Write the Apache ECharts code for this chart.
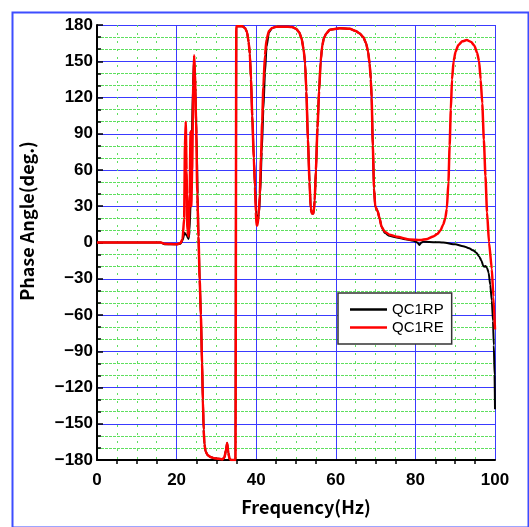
<!DOCTYPE html>
<html>
<head>
<meta charset="utf-8">
<script src="https://cdn.jsdelivr.net/npm/echarts@6/dist/echarts.min.js"></script>
<style>
html,body{margin:0;padding:0;background:#fff;}
#c{width:529px;height:527px;}
</style>
</head>
<body>
<div id="c"></div>
<script>
var seriesNames = ['QC1RP', 'QC1RE'];
var xTitle = 'Frequency(Hz)';
var yTitle = 'Phase Angle(deg.)';
var xTicks = [0, 20, 40, 60, 80, 100];
var yTicks = [-180, -150, -120, -90, -60, -30, 0, 30, 60, 90, 120, 150, 180];

var qc1rp = [
 [0,0],[10,0],[16,0],[17,-1.5],[20,-1.5],[21,-1],[21.5,2],[22,8],[22.5,6],[23,3],[23.3,10],[23.7,60],[24.1,130],[24.4,152],[24.7,130],[25.0,90],[25.3,40],[25.5,5],
 [25.8,-31],[26.1,-60],[26.4,-100],[26.6,-130],[26.8,-155],[27.0,-167],[27.3,-173],[27.8,-176],[28.5,-177.5],[29.5,-178.5],[30.5,-179],[31.5,-179.5],[32.0,-178],[32.4,-172],[32.7,-166],[33.0,-174],[33.3,-179],[33.7,-180],[34.8,-180],
 [35.0,179],[36.5,179],[37.2,177.5],[37.7,174],[38.1,166],[38.4,156],[38.7,135],[39.0,105],[39.4,70],[39.7,46],[39.9,30],[40.2,20],[40.4,18],[40.7,24],[41.0,40],[41.4,75],[41.8,110],[42.2,140],[42.6,162],[43.2,174],[44,177.5],[45,178.5],[47,178.6],[49,178.3],[50,177],[50.8,174],[51.4,169],[51.9,160],[52.3,148],[52.6,125],[53,85],[53.4,50],[53.7,28],[54.0,24],[54.4,24],[54.7,35],[55.0,60],[55.4,95],[55.8,125],[56.2,150],[56.6,163],[57.0,169],[57.6,173],[58.5,176],[61,177.3],[63.5,176.8],[65,175],[66,173],[66.9,170],[67.6,165],[68.1,158],[68.5,148],[68.8,135],[69,120],[69.3,80],[69.6,45],[69.9,30],[70.5,26],[71,20],[71.5,13],[72.3,8],[73.5,5.5],[75,4.3],[77,3],[79.5,1.5],[80.5,0],[81,-2],[81.5,0],[82,0.7],[85,0.3],[87,0],[90,-1.5],[92,-3],[93.5,-4.8],[94.5,-6.5],[95.3,-8.5],[96,-11.5],[96.6,-15],[97.0,-19],[97.3,-20],[97.6,-19.5],[98.0,-21],[98.4,-25],[98.8,-35],[99.2,-48],[99.5,-65],[99.7,-85],[99.9,-110],[100,-138]
];

var qc1re = [
 [0,0],[10,0],[16,0],[17,-1],[20,-1.5],[21,-0.5],[21.5,3],[21.9,20],[22.1,80],[22.3,100],[22.5,60],[22.7,10],[23.0,5],[23.3,40],[23.5,92],[23.7,30],[23.9,60],[24.2,130],[24.4,155],[24.6,140],[24.9,100],[25.2,40],[25.5,5],
 [25.8,-31],[26.1,-60],[26.4,-100],[26.6,-130],[26.8,-155],[27.0,-167],[27.3,-173],[27.8,-176],[28.5,-177.5],[29.5,-178.5],[30.5,-179],[31.5,-179.5],[32.0,-178],[32.4,-172],[32.7,-166],[33.0,-174],[33.3,-179],[33.7,-180],[34.8,-180],
 [35.0,179],[36.5,179],[37.2,177.5],[37.7,174],[38.1,166],[38.4,156],[38.7,135],[39.0,105],[39.4,70],[39.7,46],[39.9,25],[40.1,14],[40.3,14],[40.6,22],[40.9,40],[41.2,70],[41.5,100],[41.8,129],[42.2,155],[42.6,168],[43.2,175],[44,177.5],[45,178.5],[47,178.6],[49,178.3],[50,177],[50.8,174],[51.4,169],[51.9,160],[52.3,148],[52.6,125],[53,85],[53.4,50],[53.7,28],[54.0,24],[54.4,24],[54.7,35],[55.0,60],[55.4,95],[55.8,125],[56.2,150],[56.6,163],[57.0,169],[57.6,173],[58.5,176],[61,177.3],[63.5,176.8],[65,175],[66,173],[66.9,170],[67.6,165],[68.1,158],[68.5,148],[68.8,135],[69,120],[69.3,80],[69.6,45],[69.9,30],[70.5,26],[71,20],[71.5,13],[72.3,9],[73.5,6.5],[75.3,4.8],[78.6,2.5],[81.2,2],[83,3],[84.5,5],[85.5,7],[86.3,10],[87,15],[87.5,20],[87.9,28],[88.3,50],[88.6,80],[88.9,110],[89.2,135],[89.6,150],[90.1,158],[90.8,163.5],[91.8,166.5],[92.9,167.5],[94,166],[94.8,163],[95.5,157],[96,150],[96.4,135],[96.8,115],[97.2,85],[97.6,55],[98,25],[98.5,0],[99.2,-22],[99.6,-45],[100,-72]
];

var chart = echarts.init(document.getElementById('c'), null, {renderer: 'canvas'});
var blue = '#3a3aff';
var green = '#5fdf5f';
var titleFont = {fontFamily: 'Noto Sans CJK JP', fontWeight: 'bold', fontSize: 18, fill: '#000'};
var option = {
  animation: false,
  backgroundColor: '#ffffff',
  graphic: [{
    type: 'rect', left: 10, top: 10, z: 0,
    shape: {width: 516, height: 515},
    style: {fill: 'none', stroke: '#3d4dff', lineWidth: 2}
  }, {
    type: 'text', x: 306, y: 507, z: 10,
    style: Object.assign({text: xTitle, align: 'center', verticalAlign: 'middle'}, titleFont)
  }, {
    type: 'text', x: 27, y: 221, rotation: Math.PI / 2, z: 10,
    style: Object.assign({text: yTitle, align: 'center', verticalAlign: 'middle'}, titleFont)
  }],
  grid: {left: 97, right: 34, top: 25, bottom: 67},
  legend: {
    data: seriesNames,
    orient: 'vertical',
    left: 338, top: 293,
    backgroundColor: '#ffffff',
    borderColor: '#333333',
    borderWidth: 1.5,
    padding: [9, 8, 9, 12],
    itemGap: 3,
    itemWidth: 37,
    itemHeight: 2.5,
    icon: 'rect',
    textStyle: {fontFamily: 'Liberation Sans', fontSize: 15, color: '#000'}
  },
  xAxis: {
    type: 'value', min: 0, max: 100, interval: 20,
    axisLine: {show: true, onZero: false, lineStyle: {color: '#000', width: 2}},
    axisTick: {show: false},
    minorTick: {show: true, splitNumber: 4, length: 4, lineStyle: {color: '#000', width: 1.5}},
    axisLabel: {fontFamily: 'Liberation Sans', fontWeight: 'bold', fontSize: 17, color: '#000', margin: 12,
      formatter: function (v) { return xTicks.indexOf(v) >= 0 ? String(v) : ''; }},
    splitLine: {show: true, lineStyle: {color: blue, width: 1}},
    minorSplitLine: {show: true, lineStyle: {color: green, width: 1, type: [2, 6]}}
  },
  yAxis: {
    type: 'value', min: -180, max: 180, interval: 30,
    axisLine: {show: true, onZero: false, lineStyle: {color: '#000', width: 2}},
    axisTick: {show: true, inside: true, length: 6, lineStyle: {color: '#000', width: 1.5}},
    minorTick: {show: true, splitNumber: 3, length: 4, lineStyle: {color: '#000', width: 1.5}},
    axisLabel: {fontFamily: 'Liberation Sans', fontWeight: 'bold', fontSize: 17, color: '#000', margin: 4,
      formatter: function (v) { return yTicks.indexOf(v) >= 0 ? String(v).replace('-', '\u2212') : ''; }},
    splitLine: {show: true, lineStyle: {color: blue, width: 1}},
    minorSplitLine: {show: true, lineStyle: {color: green, width: 1, type: [3, 1]}}
  },
  series: [
    {name: seriesNames[0], type: 'line', data: qc1rp, showSymbol: false, symbol: 'none',
     smooth: 0.2, smoothMonotone: 'x',
     lineStyle: {color: '#000000', width: 2}, itemStyle: {color: '#000000'}, z: 3},
    {name: seriesNames[1], type: 'line', data: qc1re, showSymbol: false, symbol: 'none',
     smooth: 0.2, smoothMonotone: 'x',
     lineStyle: {color: '#ff0000', width: 2.5}, itemStyle: {color: '#ff0000'}, z: 4}
  ]
};
chart.setOption(option);
</script>
</body>
</html>
